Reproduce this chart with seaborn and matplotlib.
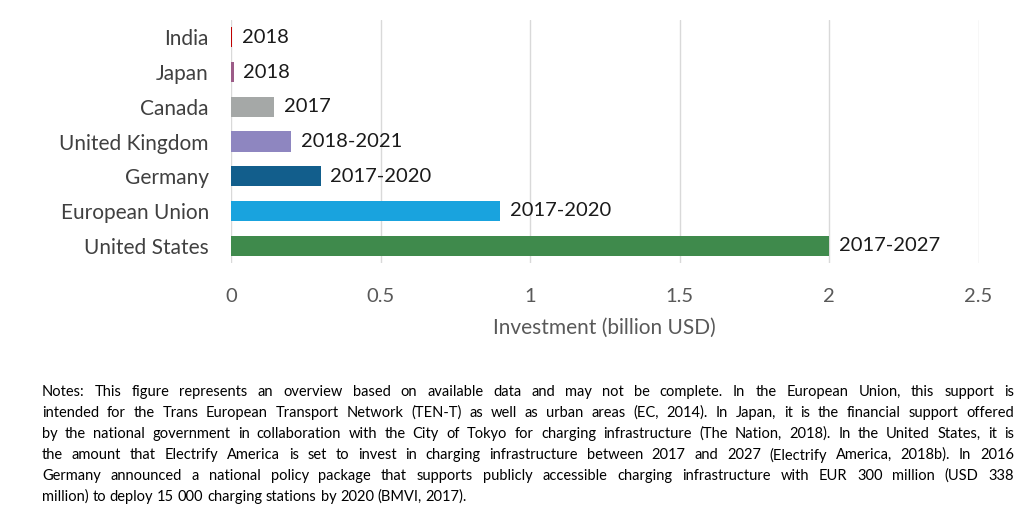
import matplotlib
matplotlib.use("Agg")
import matplotlib.pyplot as plt
from matplotlib import font_manager
import seaborn as sns
import pandas as pd

# Public support for charging infrastructure, by country/region
countries = ["India", "Japan", "Canada", "United Kingdom", "Germany",
             "European Union", "United States"]
investment = [0.005, 0.009, 0.145, 0.2, 0.3, 0.9, 2.0]
periods = ["2018", "2018", "2017", "2018-2021", "2017-2020", "2017-2020",
           "2017-2027"]
colors = ["#C00000", "#9C5C88", "#A5A8A7", "#8E86C0", "#125E8C",
          "#19A3DE", "#3F8A4C"]
x_ticks = [0, 0.5, 1, 1.5, 2, 2.5]
x_tick_labels = ["0", "0.5", "1", "1.5", "2", "2.5"]
x_label = "Investment (billion USD)"
notes = [
    "Notes: This figure represents an overview based on available data and may not be complete. In the European Union, this support is",
    "intended for the Trans European Transport Network (TEN-T) as well as urban areas (EC, 2014). In Japan, it is the financial support offered",
    "by the national government in collaboration with the City of Tokyo for charging infrastructure (The Nation, 2018). In the United States, it is",
    "the amount that Electrify America is set to invest in charging infrastructure between 2017 and 2027 (Electrify America, 2018b). In 2016",
    "Germany announced a national policy package that supports publicly accessible charging infrastructure with EUR 300 million (USD 338",
    "million) to deploy 15 000 charging stations by 2020 (BMVI, 2017).",
]

sns.set_theme(style="white")
installed = {f.name for f in font_manager.fontManager.ttflist}
main_font = next((f for f in ["Lato", "Open Sans", "DejaVu Sans"] if f in installed), "DejaVu Sans")
plt.rcParams["font.family"] = [main_font, "DejaVu Sans"]

W, H = 1017, 523
fig = plt.figure(figsize=(W / 100, H / 100), dpi=100)
ax = fig.add_axes([231 / W, (H - 263) / H, (978.5 - 231) / W, (263 - 20) / H])

df = pd.DataFrame({"country": countries, "investment": investment})
sns.barplot(data=df, x="investment", y="country", hue="country",
            palette=dict(zip(countries, colors)), orient="h", width=0.58,
            legend=False, ax=ax, saturation=1, edgecolor="none", linewidth=0)

ax.set_xlim(0, 2.5)
ax.set_xticks(x_ticks)
ax.set_xticklabels(x_tick_labels)
ax.grid(axis="x", color="#D9D9D9", linewidth=1)
ax.set_axisbelow(True)
for s in ax.spines.values():
    s.set_visible(False)
ax.tick_params(axis="x", length=0, pad=18, labelsize=14.5, labelcolor="#595959")
ax.tick_params(axis="y", length=0, pad=16, labelsize=15, labelcolor="#404040")
ax.set_ylabel("")
ax.set_xlabel(x_label, fontsize=15, color="#595959", labelpad=9)

for cont, lab in zip(ax.containers, periods):
    ax.bar_label(cont, labels=[lab], padding=7, fontsize=14.5, color="#1a1a1a")

# Justified notes paragraph
renderer = fig.canvas.get_renderer()
note_size = 10.5
x0, x1 = 42, 1014
y_first = 392
probe_a = fig.text(0, 0, "a", fontsize=note_size)
probe_aa = fig.text(0, 0, "a a", fontsize=note_size)
space = probe_aa.get_window_extent(renderer).width - 2 * probe_a.get_window_extent(renderer).width
probe_a.remove()
probe_aa.remove()
for i, line in enumerate(notes):
    y = 1 - (y_first + i * 21) / H
    words = line.split(" ")
    texts = [fig.text(0, y, w, fontsize=note_size, color="#000000",
                      va="center", ha="left") for w in words]
    widths = [t.get_window_extent(renderer).width for t in texts]
    last = i == len(notes) - 1
    gap = space if last else (x1 - x0 - sum(widths)) / (len(words) - 1)
    x = x0
    for t, w in zip(texts, widths):
        t.set_x(x / W)
        x += w + gap

fig.savefig("out.png", dpi=100)
